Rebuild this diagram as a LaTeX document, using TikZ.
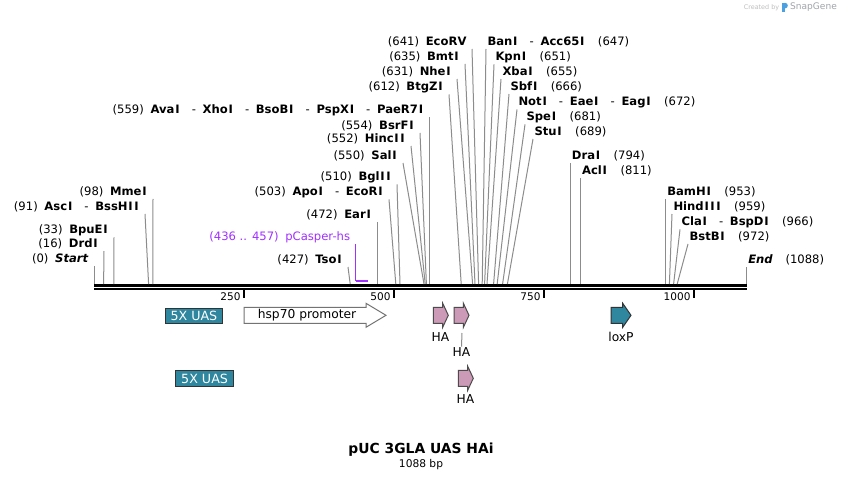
\documentclass[tikz,border=0pt]{standalone}
\usepackage{fontspec}
\setmainfont{DejaVu Sans}
\definecolor{uasblue}{RGB}{47,134,159}
\definecolor{hapink}{RGB}{204,153,182}
\definecolor{caspurple}{RGB}{160,48,255}
\definecolor{sitegray}{RGB}{140,140,140}
\definecolor{logogray}{RGB}{160,164,170}
\definecolor{logoblue}{RGB}{74,160,225}
\newcommand{\sitesep}{\hspace{8.5pt}-\hspace{5pt}}
\newcommand{\lpos}[1]{#1\hspace{5pt}}
\newcommand{\rpos}[1]{\hspace{9.5pt}#1}
\newcommand{\sI}{\kern0.6pt I\kern0.6pt}

\tikzset{every picture/.style={line width=0.75pt}}
\tikzset{
  sitel/.style={anchor=east, inner xsep=3.75pt, inner ysep=1pt, font=\fontsize{8.7}{10}\selectfont},
  siter/.style={anchor=west, inner xsep=0.75pt, inner ysep=1pt, font=\fontsize{8.7}{10}\selectfont},
  siteline/.style={draw=sitegray, line width=0.75pt},
  featlab/.style={inner sep=0.75pt, font=\fontsize{9.2}{11}\selectfont},
  ticklab/.style={anchor=east, inner sep=0.75pt, font=\fontsize{7.9}{9}\selectfont},
  uasbox/.style={draw=black!80, fill=uasblue, text=white, inner sep=0pt, minimum width=43pt, minimum height=11.5pt, font=\fontsize{9.5}{11}\selectfont},
  haarrow/.style={draw=black!70, fill=hapink},
}

\begin{document}
\begin{tikzpicture}[x=0.75pt,y=0.75pt,yscale=-1,xscale=1]
\useasboundingbox (0,0) rectangle (842,481);
\fill[white] (0,0) rectangle (842,481);

%Shape: Ruler
\draw[line width=2pt] (94,285.3) -- (747,285.3);
\draw[line width=2pt] (94,289) -- (747,289);
% ticks
\draw[line width=1.5pt] (244,290) -- (244,297.5);
\draw[line width=1.5pt] (394,290) -- (394,297.5);
\draw[line width=1.5pt] (544,290) -- (544,297.5);
\draw[line width=1.5pt] (694,290) -- (694,297.5);
% Text Node
\node[ticklab] (t250) at (242,296.5) {250};
\node[ticklab] (t500) at (392,296.5) {500};
\node[ticklab] (t750) at (542,296.5) {750};
\node[ticklab] (t1000) at (692,296.5) {1000};

% Sites, left side
\node[sitel] (s0) at (94,259) {\lpos{(0)}\textbf{\textit{Start}}};
\coordinate (r0) at (94,284); \draw[siteline] (s0.south east) -- (r0);
\node[sitel] (s16) at (104,244) {\lpos{(16)}\textbf{Drd\sI}};
\coordinate (r16) at (103.6,284); \draw[siteline] (s16.south east) -- (r16);
\node[sitel] (s33) at (114,230) {\lpos{(33)}\textbf{BpuE\sI}};
\coordinate (r33) at (113.8,284); \draw[siteline] (s33.south east) -- (r33);
\node[sitel] (s91) at (145,207) {\lpos{(91)}\textbf{Asc\sI}\sitesep\textbf{BssH\sI\sI}};
\coordinate (r91) at (148.6,284); \draw[siteline] (s91.south east) -- (r91);
\node[sitel] (s98) at (153,192) {\lpos{(98)}\textbf{Mme\sI}};
\coordinate (r98) at (152.8,284); \draw[siteline] (s98.south east) -- (r98);
\node[sitel] (s427) at (348,260) {\lpos{(427)}\textbf{Tso\sI}};
\coordinate (r427) at (350.2,284); \draw[siteline] (s427.south east) -- (r427);
\node[sitel] (s472) at (377.2,215) {\lpos{(472)}\textbf{Ear\sI}};
\coordinate (r472) at (377.2,284); \draw[siteline] (s472.south east) -- (r472);
\node[sitel] (s503) at (389,192) {\lpos{(503)}\textbf{Apo\sI}\sitesep\textbf{EcoR\sI}};
\coordinate (r503) at (395.8,284); \draw[siteline] (s503.south east) -- (r503);
\node[sitel] (s510) at (397,177) {\lpos{(510)}\textbf{Bgl\sI\sI}};
\coordinate (r510) at (400,284); \draw[siteline] (s510.south east) -- (r510);
\node[sitel] (s550) at (403,156) {\lpos{(550)}\textbf{Sal\sI}};
\coordinate (r550) at (424,284); \draw[siteline] (s550.south east) -- (r550);
\node[sitel] (s552) at (411,139) {\lpos{(552)}\textbf{Hinc\sI\sI}};
\coordinate (r552) at (425.2,284); \draw[siteline] (s552.south east) -- (r552);
\node[sitel] (s554) at (420,126) {\lpos{(554)}\textbf{BsrF\sI}};
\coordinate (r554) at (426.4,284); \draw[siteline] (s554.south east) -- (r554);
\node[sitel] (s559) at (429.4,110) {\lpos{(559)}\textbf{Ava\sI}\sitesep\textbf{Xho\sI}\sitesep\textbf{BsoB\sI}\sitesep\textbf{PspX\sI}\sitesep\textbf{PaeR7\sI}};
\coordinate (r559) at (429.4,284); \draw[siteline] (s559.south east) -- (r559);
\node[sitel] (s612) at (449,87) {\lpos{(612)}\textbf{BtgZ\sI}};
\coordinate (r612) at (461.2,284); \draw[siteline] (s612.south east) -- (r612);
\node[sitel] (s631) at (457,72) {\lpos{(631)}\textbf{Nhe\sI}};
\coordinate (r631) at (472.6,284); \draw[siteline] (s631.south east) -- (r631);
\node[sitel] (s635) at (465,57) {\lpos{(635)}\textbf{Bmt\sI}};
\coordinate (r635) at (475,284); \draw[siteline] (s635.south east) -- (r635);
\node[sitel] (s641) at (472,42) {\lpos{(641)}\textbf{EcoRV}};
\coordinate (r641) at (478.6,284); \draw[siteline] (s641.south east) -- (r641);

% Sites, right side
\node[siter] (s647) at (486,42) {\textbf{Ban\sI}\sitesep\textbf{Acc65\sI}\rpos{(647)}};
\coordinate (r647) at (482.2,284); \draw[siteline] (s647.south west) -- (r647);
\node[siter] (s651) at (494,57) {\textbf{Kpn\sI}\rpos{(651)}};
\coordinate (r651) at (484.6,284); \draw[siteline] (s651.south west) -- (r651);
\node[siter] (s655) at (501,72) {\textbf{Xba\sI}\rpos{(655)}};
\coordinate (r655) at (487,284); \draw[siteline] (s655.south west) -- (r655);
\node[siter] (s666) at (509,87) {\textbf{Sbf\sI}\rpos{(666)}};
\coordinate (r666) at (493.6,284); \draw[siteline] (s666.south west) -- (r666);
\node[siter] (s672) at (517,102) {\textbf{Not\sI}\sitesep\textbf{Eae\sI}\sitesep\textbf{Eag\sI}\rpos{(672)}};
\coordinate (r672) at (497.2,284); \draw[siteline] (s672.south west) -- (r672);
\node[siter] (s681) at (525,117) {\textbf{Spe\sI}\rpos{(681)}};
\coordinate (r681) at (502.6,284); \draw[siteline] (s681.south west) -- (r681);
\node[siter] (s689) at (533,132) {\textbf{Stu\sI}\rpos{(689)}};
\coordinate (r689) at (507.4,284); \draw[siteline] (s689.south west) -- (r689);
\node[siter] (s794) at (570.4,156) {\textbf{Dra\sI}\rpos{(794)}};
\coordinate (r794) at (570.4,284); \draw[siteline] (s794.south west) -- (r794);
\node[siter] (s811) at (580.6,171) {\textbf{Acl\sI}\rpos{(811)}};
\coordinate (r811) at (580.6,284); \draw[siteline] (s811.south west) -- (r811);
\node[siter] (s953) at (665.8,192) {\textbf{BamH\sI}\rpos{(953)}};
\coordinate (r953) at (665.8,284); \draw[siteline] (s953.south west) -- (r953);
\node[siter] (s959) at (672,207) {\textbf{Hind\sI\sI\sI}\rpos{(959)}};
\coordinate (r959) at (669.4,284); \draw[siteline] (s959.south west) -- (r959);
\node[siter] (s966) at (680,222) {\textbf{Cla\sI}\sitesep\textbf{BspD\sI}\rpos{(966)}};
\coordinate (r966) at (673.6,284); \draw[siteline] (s966.south west) -- (r966);
\node[siter] (s972) at (688,237) {\textbf{BstB\sI}\rpos{(972)}};
\coordinate (r972) at (677.2,284); \draw[siteline] (s972.south west) -- (r972);
\node[siter] (s1088) at (746.8,260) {\textbf{\textit{End}}\rpos{(1088)}};
\coordinate (r1088) at (746.8,284); \draw[siteline] (s1088.south west) -- (r1088);

% pCasper-hs
\node[sitel, text=caspurple] (caslab) at (355.6,237) {\lpos{(436 .. 457)}pCasper-hs};
\coordinate (casbar) at (355.6,280.5);
\draw[caspurple] (caslab.south east) -- (casbar);
\draw[caspurple, line width=1.5pt] (355.6,280.5) -- (368.2,280.5);

%Shape: 5X UAS boxes
\node[uasbox] (uas1) at (193.9,315.7) {5X UAS};
\node[uasbox] (uas2) at (204.6,378.5) {5X UAS};

%Shape: hsp70 promoter
\draw[draw=black!55, fill=white] (244,307.3) -- (366,307.3) -- (366,303.3) -- (386,315.3) -- (366,327.3) -- (366,323.3) -- (244,323.3) -- cycle;
\node[featlab] (hsplab) at (307,315.3) {hsp70 promoter};

%Shape: HA and loxP arrows
\draw[haarrow] (433.3,307.3) -- (442.7,307.3) -- (442.7,303.3) -- (448.3,315.3) -- (442.7,327.3) -- (442.7,323.3) -- (433.3,323.3) -- cycle;
\draw[haarrow] (454,307.3) -- (463.4,307.3) -- (463.4,303.3) -- (469,315.3) -- (463.4,327.3) -- (463.4,323.3) -- (454,323.3) -- cycle;
\draw[haarrow] (458.3,370.3) -- (467.7,370.3) -- (467.7,366.3) -- (473.3,378.3) -- (467.7,390.3) -- (467.7,386.3) -- (458.3,386.3) -- cycle;
\draw[draw=black!80, fill=uasblue] (611,307.3) -- (622.7,307.3) -- (622.7,303.3) -- (631,315.3) -- (622.7,327.3) -- (622.7,323.3) -- (611,323.3) -- cycle;

% Text Node
\node[featlab] (ha1) at (440.5,337) {HA};
\node[featlab] (ha2) at (461.5,352.5) {HA};
\coordinate (ha2top) at (462,333);
\draw[sitegray] (ha2top) -- (ha2.north);
\node[featlab] (ha3) at (465.5,399) {HA};
\node[featlab] (loxp) at (621,336.5) {loxP};

% Title
\node[inner sep=0.75pt, font=\fontsize{10.4}{12}\selectfont\bfseries] (title) at (421,450) {pUC 3GLA UAS HAi};
\node[inner sep=0.75pt, font=\fontsize{8}{10}\selectfont] (size) at (421,465) {1088 bp};

% Logo
\node[inner sep=0pt, text=black!25, font=\fontsize{4.8}{6}\selectfont] (created) at (761.5,7.5) {Created by};
\fill[logoblue] (782,2.8) rectangle (784.6,12);
\fill[logoblue] (785,5.6) circle (2.8);
\node[inner sep=0pt, text=logogray, font=\fontsize{6.8}{8}\selectfont] (snapgene) at (813.5,7.5) {SnapGene};
\end{tikzpicture}
\end{document}
